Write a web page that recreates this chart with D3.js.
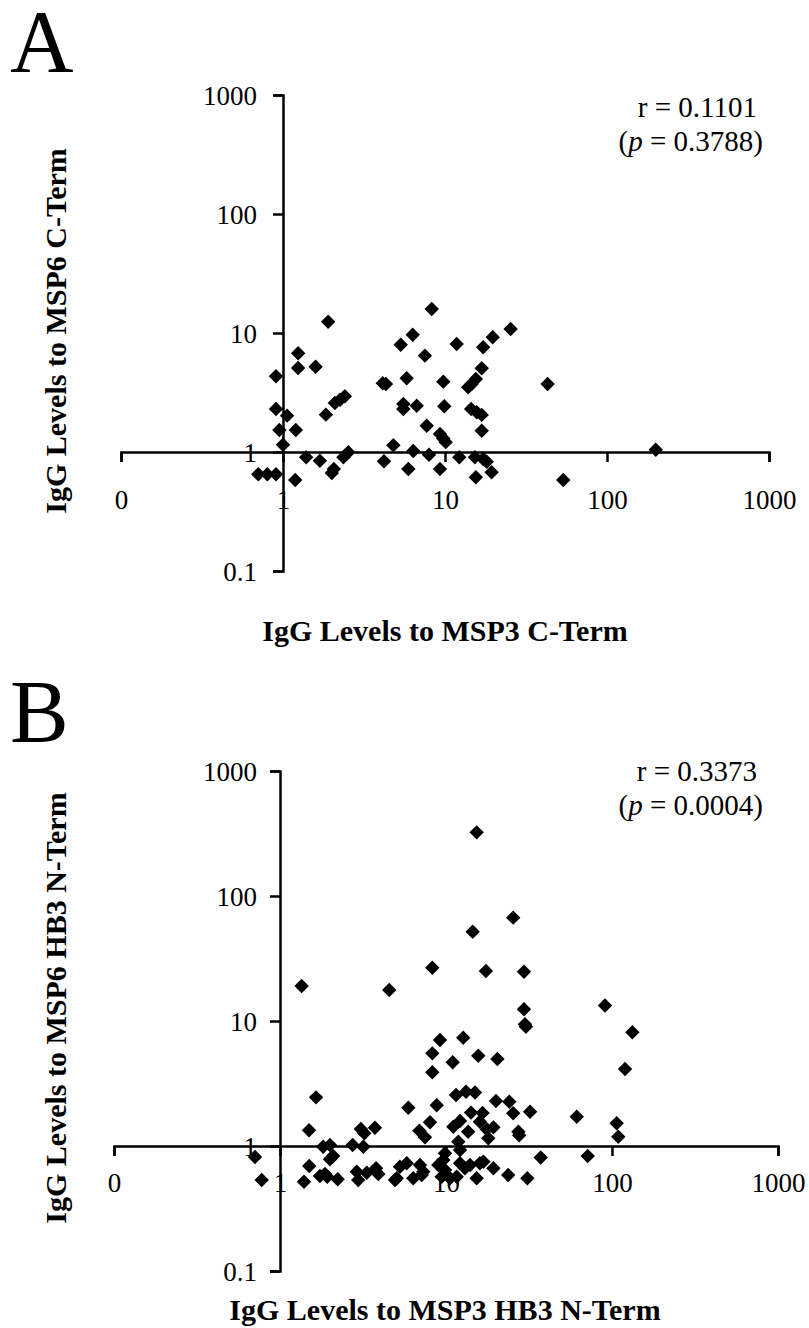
<!DOCTYPE html>
<html>
<head>
<meta charset="utf-8">
<script src="https://cdn.jsdelivr.net/npm/d3@7"></script>
<style>
  body { margin: 0; background: #fff; }
  svg { display: block; }
  text { font-family: "Liberation Serif", "Times New Roman", serif; fill: #000; }
</style>
</head>
<body>
<script>
// log tick positions shared by both panels
var tickVals = [0.1, 1, 10, 100, 1000];
var xTickLabels = ["0", "1", "10", "100", "1000"];
var yTickLabels = ["0.1", "1", "10", "100", "1000"];

// Panel A: MSP3 C-Term (x) vs MSP6 C-Term (y)
var msp3C = [1.90,1.24,1.24,1.59,0.905,4.13,4.32,5.33,6.32,5.80,2.41,2.25,2.09,1.84,0.905,1.06,0.95,1.20,1.00,5.53,
  5.53,4.80,1.39,1.69,2.36,2.53,2.06,2.00,4.20,5.94,6.37,0.704,0.80,0.905,1.19,8.28,7.52,11.8,9.76,6.69,
  9.90,7.71,9.31,9.76,10.1,7.97,12.25,9.31,17.2,19.7,25.4,16.85,15.5,14.6,13.9,43.0,14.5,15.7,16.85,16.85,
  15.3,17.2,18.1,15.5,19.4,53.7,200];
var msp6C = [12.45,6.75,5.08,5.21,4.33,3.78,3.73,7.97,9.68,4.16,2.94,2.75,2.58,2.06,2.30,2.02,1.53,1.53,1.15,2.53,
  2.30,1.14,0.903,0.845,0.903,0.994,0.72,0.666,0.835,0.72,1.02,0.65,0.65,0.65,0.582,15.9,6.45,8.08,3.90,2.45,
  2.42,1.66,1.42,1.30,1.21,0.949,0.903,0.72,7.58,9.2,10.8,5.05,4.11,3.73,3.50,3.73,2.30,2.16,2.05,1.51,
  0.903,0.873,0.829,0.613,0.675,0.582,1.045];

// Panel B: MSP3 HB3 N-Term (x) vs MSP6 HB3 N-Term (y)
var msp3HB3 = [0.707,0.776,1.35,1.648,1.496,3.07,3.22,3.73,1.82,2.00,
  2.09,2.00,2.74,3.18,1.50,1.395,1.74,1.867,1.927,2.226,
  2.90,2.96,3.33,3.79,3.91,4.93,4.55,8.27,9.20,8.27,
  8.27,10.97,5.93,8.79,8.01,6.91,7.47,15.65,20.4,11.49,
  13.2,14.95,20.0,24.06,25.4,32.1,14.15,16.6,12.15,11.07,
  13.6,16.0,17.6,19.3,27.3,27.6,17.98,11.86,12.15,9.86,
  9.63,37.2,5.80,5.28,6.97,7.30,8.99,9.86,9.42,12.15,
  13.0,13.95,16.0,16.8,19.3,23.7,30.9,5.05,6.35,7.14,
  10.57,11.6,15.3,15.3,25.4,14.48,17.4,29.5,90.7,29.5,
  29.9,30.3,132.6,12.7,119.8,61.3,106.7,109.1,71.4];
var msp6HB3 = [0.817,0.535,19.05,2.45,1.335,1.368,1.264,1.40,0.987,1.02,
  0.832,0.783,1.02,0.987,0.692,0.518,0.575,0.597,0.568,0.542,
  0.623,0.535,0.611,0.663,0.597,0.535,17.7,26.7,7.05,5.51,
  3.89,4.67,2.02,2.12,1.55,1.325,1.174,5.28,4.97,2.56,
  2.72,2.68,2.29,2.26,1.83,1.88,1.85,1.84,1.585,1.427,
  1.30,1.565,1.36,1.41,1.30,1.22,1.152,1.082,0.929,0.874,
  0.773,0.809,0.727,0.683,0.705,0.623,0.705,0.643,0.568,0.727,
  0.663,0.705,0.727,0.749,0.663,0.586,0.552,0.552,0.552,0.586,
  0.552,0.568,0.552,323,67.1,51.8,25.1,24.8,13.3,12.4,
  9.41,9.0,8.12,7.35,4.13,1.716,1.519,1.187,0.832];

var w = 809, h = 1328;
var svg = d3.select("body").append("svg")
  .attr("width", w)
  .attr("height", h);

var panels = [
  {letter: "A", letterY: 71, xs: msp3C, ys: msp6C,
   xr: [121, 769], yr: [571, 95], xLabY: 509,
   xTitle: "IgG Levels to MSP3 C-Term", xTitleY: 641,
   yTitle: "IgG Levels to MSP6 C-Term", yTitleY: 331,
   r: "r = 0.1101", p: "0.3788", rY: 117, pY: 151},
  {letter: "B", letterY: 741, xs: msp3HB3, ys: msp6HB3,
   xr: [114, 778], yr: [1271, 771], xLabY: 1192,
   xTitle: "IgG Levels to MSP3 HB3 N-Term", xTitleY: 1320,
   yTitle: "IgG Levels to MSP6 HB3 N-Term", yTitleY: 1008,
   r: "r = 0.3373", p: "0.0004", rY: 781, pY: 815}
];

var diamond = d3.symbol().type(d3.symbolSquare).size(104);

panels.forEach(function(cfg) {
  var x = d3.scaleLog().domain([0.1, 1000]).range(cfg.xr);
  var y = d3.scaleLog().domain([0.1, 1000]).range(cfg.yr);
  var g = svg.append("g");
  var x0 = x(1), y0 = y(1);

  // x axis crosses at y = 1
  var xa = g.append("g")
    .attr("transform", "translate(0," + y0 + ")")
    .call(d3.axisBottom(x).tickValues(tickVals).tickSizeOuter(0).tickSize(10)
      .tickFormat(function(d, i) { return xTickLabels[i]; }));
  xa.select(".domain").attr("stroke", "#000").attr("stroke-width", 2.5);
  xa.selectAll(".tick line").attr("stroke", "#000").attr("stroke-width", 2.5);
  xa.selectAll(".tick text")
    .attr("y", cfg.xLabY - y0)
    .attr("dy", 0)
    .style("font-size", "27px")
    .style("font-family", "Liberation Serif");

  // y axis crosses at x = 1
  var ya = g.append("g")
    .attr("transform", "translate(" + x0 + ",0)")
    .call(d3.axisLeft(y).tickValues(tickVals).tickSizeOuter(0).tickSize(10)
      .tickFormat(function(d, i) { return yTickLabels[i]; }));
  ya.select(".domain").attr("stroke", "#000").attr("stroke-width", 2.5);
  ya.selectAll(".tick line").attr("stroke", "#000").attr("stroke-width", 2.5);
  ya.selectAll(".tick text")
    .attr("x", 257 - x0)
    .attr("dy", "0.34em")
    .style("font-size", "27px")
    .style("font-family", "Liberation Serif");

  // points
  var pts = cfg.xs.map(function(v, i) { return [v, cfg.ys[i]]; });
  g.selectAll("path.pt")
    .data(pts)
    .enter()
    .append("path")
    .attr("class", "pt")
    .attr("d", diamond)
    .attr("fill", "#000")
    .attr("transform", function(d) {
      return "translate(" + x(d[0]) + "," + y(d[1]) + ") rotate(45)";
    });

  // panel letter
  g.append("text")
    .attr("x", 10).attr("y", cfg.letterY)
    .style("font-size", "88px")
    .text(cfg.letter);

  // axis titles
  g.append("text")
    .attr("x", 445).attr("y", cfg.xTitleY)
    .attr("text-anchor", "middle")
    .style("font-size", "30px").style("font-weight", "bold")
    .text(cfg.xTitle);
  g.append("text")
    .attr("transform", "translate(66," + cfg.yTitleY + ") rotate(-90)")
    .attr("text-anchor", "middle")
    .style("font-size", "30px").style("font-weight", "bold")
    .text(cfg.yTitle);

  // correlation text
  g.append("text")
    .attr("x", 757).attr("y", cfg.rY)
    .attr("text-anchor", "end")
    .style("font-size", "29px")
    .text(cfg.r);
  var pt = g.append("text")
    .attr("x", 763).attr("y", cfg.pY)
    .attr("text-anchor", "end")
    .style("font-size", "29px");
  pt.append("tspan").text("(");
  pt.append("tspan").style("font-style", "italic").text("p");
  pt.append("tspan").text(" = " + cfg.p + ")");
});
</script>
</body>
</html>
